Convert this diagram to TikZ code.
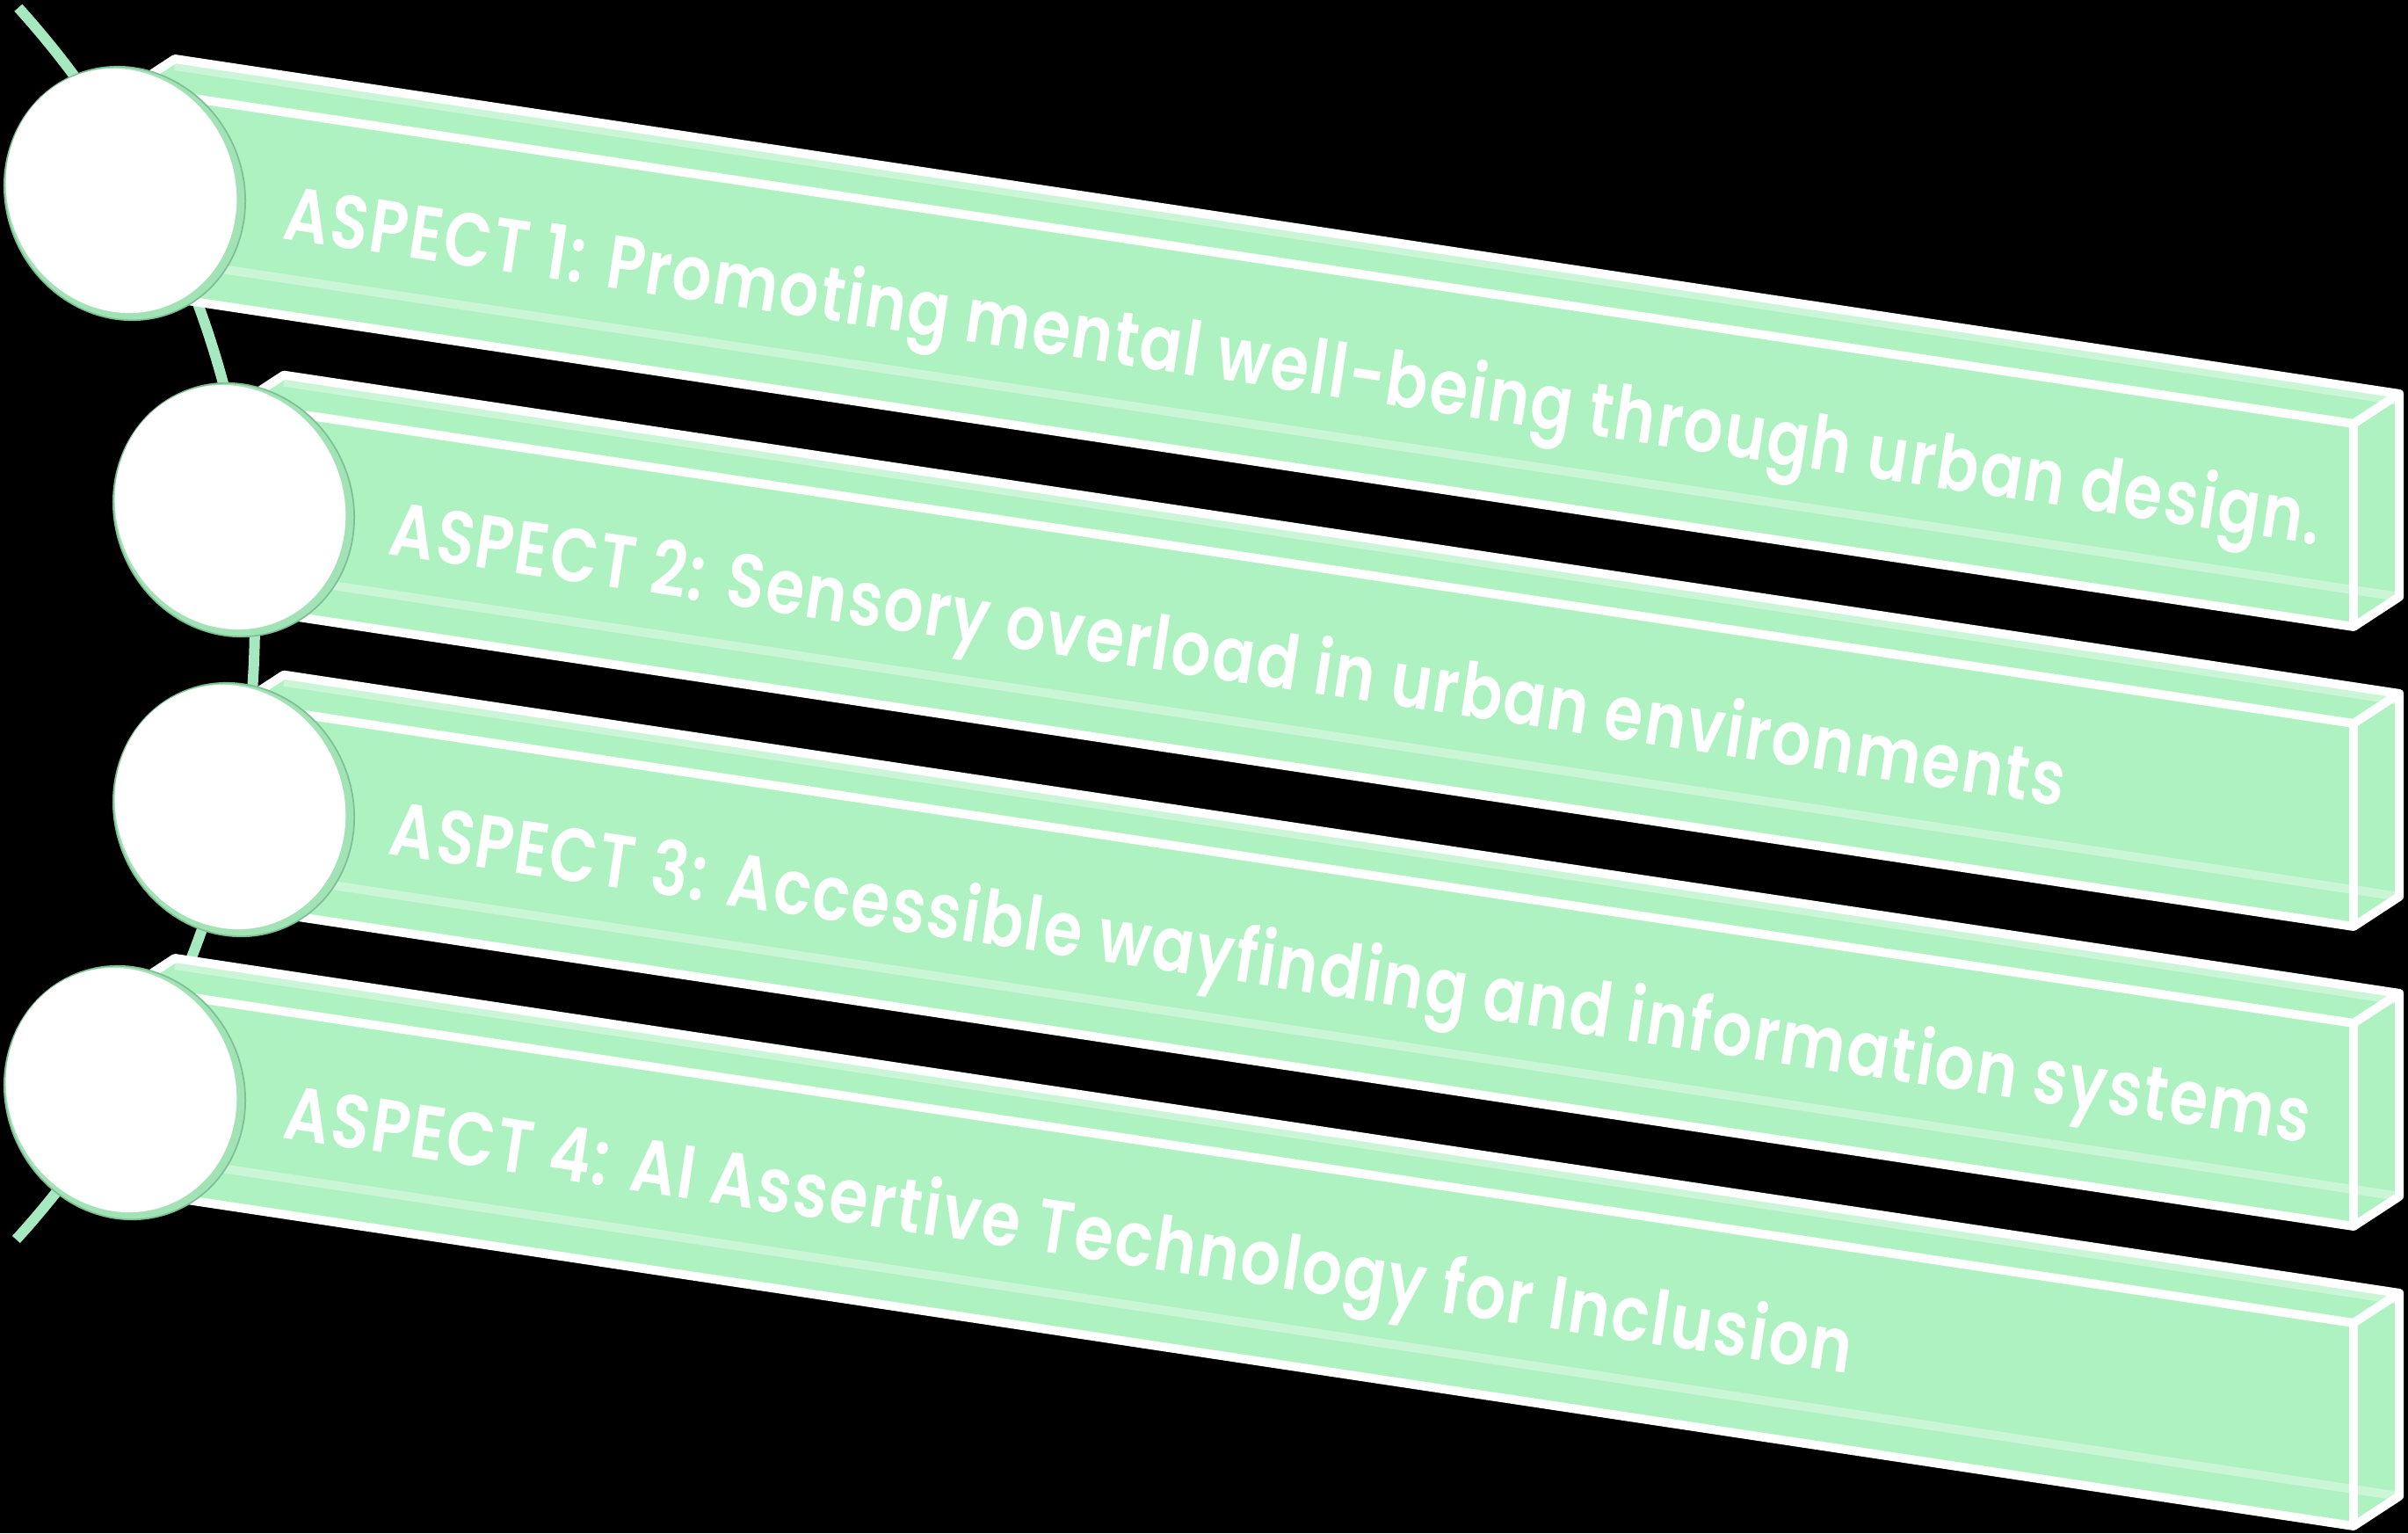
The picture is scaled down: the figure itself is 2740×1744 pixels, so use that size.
\documentclass[tikz,border=0pt]{standalone}
\usepackage{fontspec}
\setmainfont{Poppins}[BoldFont={Poppins SemiBold}]
\newfontfamily\barfont{Poppins SemiBold}[LetterSpace=3.0]
\usepackage{graphicx}
\usetikzlibrary{shapes.geometric,calc}
\definecolor{mint}{HTML}{AEF2C1}
\definecolor{mintrim}{HTML}{A2E3B6}
\definecolor{mintline}{HTML}{A6E8BF}
\definecolor{mintdark}{HTML}{7FBF96}
\tikzset{
  edgeline/.style={draw=white, line width=0.1cm, line join=round, line cap=round},
  faintline/.style={draw=white, draw opacity=0.35, line width=0.1cm},
  arcline/.style={draw=mintline, line width=0.12cm},
  lbl/.style={anchor=base west, rotate=-8.56, text=white, inner sep=0pt,
    font=\barfont\fontsize{24.4pt}{28pt}\selectfont},
  diskrim/.style={ellipse, fill=mintrim, draw=mintdark, line width=0.5pt, inner sep=0pt,
    minimum width=2.70cm, minimum height=2.92cm, rotate=25},
  diskface/.style={ellipse, fill=white, inner sep=0pt,
    minimum width=2.58cm, minimum height=2.82cm, rotate=25}
}
\newcommand\aspectbar[5]{%
  \pgfmathsetmacro\yz{101+341*(#1-1)}%
  \pgfmathsetmacro\ytl{\yz+0.1505*(#2-147)}%
  \pgfmathsetmacro\ytr{\yz+0.1505*(2678-147)}%
  \pgfmathsetmacro\yb{\ytl+0.1505*(#3-#2)+144}%
  \coordinate (b#1ftl) at (#2,\ytl);
  \coordinate (b#1ftr) at (2678,\ytr);
  \coordinate (b#1fbr) at (2678,\ytr+231);
  \coordinate (b#1fbl) at (#2,\ytl+231);
  \coordinate (b#1btl) at ($(b#1ftl)+(52,-34)$);
  \coordinate (b#1btr) at ($(b#1ftr)+(52,-34)$);
  \coordinate (b#1bbr) at ($(b#1fbr)+(52,-34)$);
  \coordinate (b#1bbl) at ($(b#1fbl)+(52,-34)$);
  \fill[mint] (b#1ftl) -- (b#1btl) -- (b#1btr) -- (b#1bbr) -- (b#1fbr) -- (b#1fbl) -- cycle;
  \draw[faintline] (b#1bbl) -- (b#1bbr);
  \draw[faintline] ($(b#1btl)+(0,8)$) -- ($(b#1btr)+(0,8)$);
  \draw[edgeline] (b#1ftl) -- (b#1btl) -- (b#1btr) -- (b#1bbr) -- (b#1fbr) -- (b#1fbl) -- cycle;
  \draw[edgeline] (b#1ftl) -- (b#1ftr) -- (b#1btr);
  \draw[edgeline] (b#1ftr) -- (b#1fbr);
  \node[lbl] (t#1) at (#3,\yb) {\resizebox{#4}{\height}{#5}};
}
\begin{document}
\begin{tikzpicture}[x=0.01cm, y=-0.01cm]
\useasboundingbox (0,0) rectangle (2740,1744);
\fill[black] (0,0) rectangle (2740,1744);
% connecting arc
\coordinate (arcc) at (-753,708);
\coordinate (arctop) at ($(arcc)+(-42.1:1043)$);
\draw[arcline] (arctop) arc[start angle=-42.1, end angle=42.3, radius=1043] coordinate (arcbot);
% bars
\aspectbar{1}{147}{320}{23.41cm}{ASPECT 1: Promoting mental well-being through urban design.}
\aspectbar{2}{271}{440}{19.25cm}{ASPECT 2: Sensory overload in urban environments}
\aspectbar{3}{271}{440}{22.07cm}{ASPECT 3: Accessible wayfinding and information systems}
\aspectbar{4}{147}{320}{18.02cm}{ASPECT 4: AI Assertive Technology for Inclusion}
% disks
\node[diskrim] (c1) at (142,220) {};
\node[diskface] (c1f) at (138,217) {};
\node[diskrim] (c2) at (266,580) {};
\node[diskface] (c2f) at (262,577) {};
\node[diskrim] (c3) at (266,921) {};
\node[diskface] (c3f) at (262,918) {};
\node[diskrim] (c4) at (142,1243) {};
\node[diskface] (c4f) at (138,1240) {};
\end{tikzpicture}
\end{document}
